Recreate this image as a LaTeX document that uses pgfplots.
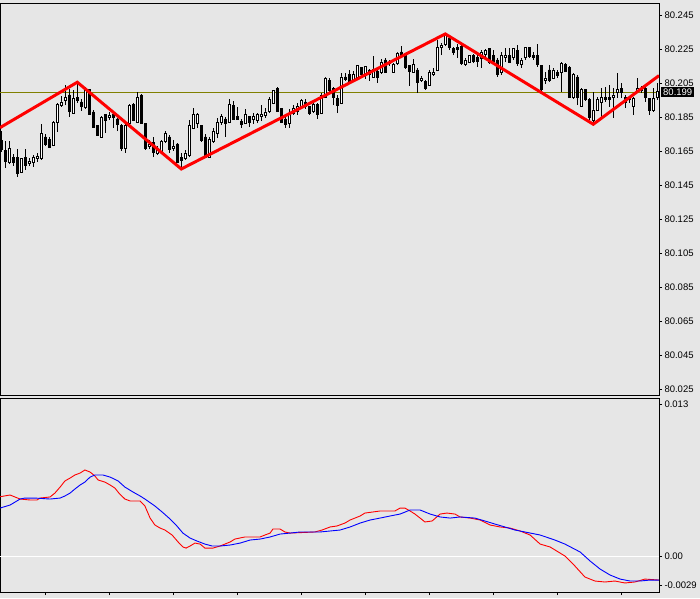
\documentclass[border=0pt]{standalone}
\usepackage{pgfplots}
\usepackage{pgfplotstable}
\pgfplotsset{compat=1.18}
\usepackage{fontspec}
\setmainfont{Liberation Sans}
\definecolor{bg}{RGB}{230,230,230}
\definecolor{bidline}{RGB}{128,128,0}
\pgfplotstableread{
i o h l c
0 80.1711 80.1769 80.1646 80.1658
1 80.1652 80.1711 80.1552 80.1593
2 80.1587 80.1711 80.1575 80.1669
3 80.1616 80.1634 80.1564 80.1587
4 80.1611 80.1664 80.1499 80.1522
5 80.1528 80.1611 80.1522 80.1605
6 80.1611 80.1664 80.1540 80.1569
7 80.1581 80.1611 80.1564 80.1593
8 80.1587 80.1628 80.1558 80.1611
9 80.1605 80.1640 80.1587 80.1622
10 80.1605 80.1811 80.1599 80.1752
11 80.1734 80.1752 80.1681 80.1693
12 80.1722 80.1734 80.1669 80.1675
13 80.1687 80.1828 80.1681 80.1822
14 80.1822 80.1934 80.1764 80.1928
15 80.1922 80.1975 80.1911 80.1940
16 80.1946 80.2040 80.1922 80.1969
17 80.1981 80.2016 80.1852 80.1887
18 80.1875 80.2011 80.1875 80.1958
19 80.1969 80.2052 80.1934 80.1946
20 80.1940 80.1958 80.1887 80.1916
21 80.1905 80.2028 80.1899 80.2016
22 80.2011 80.2016 80.1864 80.1869
23 80.1881 80.1893 80.1787 80.1793
24 80.1799 80.1805 80.1740 80.1746
25 80.1734 80.1858 80.1734 80.1846
26 80.1864 80.1869 80.1758 80.1834
27 80.1846 80.1881 80.1834 80.1858
28 80.1869 80.1881 80.1787 80.1846
29 80.1840 80.1846 80.1769 80.1805
30 80.1799 80.1811 80.1652 80.1669
31 80.1664 80.1816 80.1640 80.1799
32 80.1811 80.1928 80.1805 80.1922
33 80.1928 80.1934 80.1828 80.1834
34 80.1822 80.1999 80.1816 80.1964
35 80.1981 80.1987 80.1811 80.1816
36 80.1811 80.1816 80.1658 80.1664
37 80.1681 80.1716 80.1664 80.1693
38 80.1699 80.1734 80.1616 80.1646
39 80.1640 80.1681 80.1628 80.1669
40 80.1646 80.1716 80.1634 80.1705
41 80.1705 80.1769 80.1699 80.1752
42 80.1734 80.1746 80.1640 80.1658
43 80.1669 80.1716 80.1652 80.1681
44 80.1693 80.1699 80.1581 80.1587
45 80.1611 80.1640 80.1552 80.1599
46 80.1605 80.1658 80.1599 80.1640
47 80.1628 80.1834 80.1616 80.1799
48 80.1787 80.1905 80.1781 80.1864
49 80.1811 80.1875 80.1787 80.1864
50 80.1799 80.1805 80.1705 80.1716
51 80.1734 80.1752 80.1611 80.1616
52 80.1616 80.1734 80.1611 80.1722
53 80.1705 80.1787 80.1699 80.1764
54 80.1752 80.1846 80.1728 80.1822
55 80.1822 80.1869 80.1805 80.1852
56 80.1840 80.1852 80.1734 80.1816
57 80.1822 80.1958 80.1816 80.1928
58 80.1922 80.1946 80.1834 80.1840
59 80.1852 80.1911 80.1834 80.1840
60 80.1828 80.1840 80.1787 80.1805
61 80.1816 80.1899 80.1811 80.1864
62 80.1852 80.1858 80.1793 80.1822
63 80.1840 80.1875 80.1811 80.1852
64 80.1834 80.1875 80.1816 80.1864
65 80.1852 80.1922 80.1828 80.1869
66 80.1858 80.1905 80.1846 80.1881
67 80.1887 80.1969 80.1875 80.1952
68 80.1934 80.2011 80.1928 80.2005
69 80.2022 80.2028 80.1881 80.1887
70 80.1899 80.1905 80.1816 80.1822
71 80.1840 80.1852 80.1787 80.1805
72 80.1816 80.1899 80.1787 80.1875
73 80.1875 80.1922 80.1864 80.1899
74 80.1887 80.1934 80.1864 80.1911
75 80.1911 80.1958 80.1899 80.1946
76 80.1940 80.1958 80.1899 80.1911
77 80.1911 80.1916 80.1864 80.1875
78 80.1887 80.1934 80.1875 80.1928
79 80.1928 80.1934 80.1840 80.1864
80 80.1875 80.1993 80.1869 80.1981
81 80.1969 80.2087 80.1964 80.2081
82 80.2069 80.2081 80.1993 80.2005
83 80.2022 80.2028 80.1922 80.1969
84 80.1958 80.1981 80.1875 80.1922
85 80.1934 80.2111 80.1928 80.2087
86 80.2087 80.2111 80.2064 80.2075
87 80.2099 80.2128 80.2046 80.2052
88 80.2064 80.2122 80.2058 80.2099
89 80.2087 80.2158 80.2081 80.2152
90 80.2140 80.2146 80.2087 80.2099
91 80.2099 80.2152 80.2075 80.2146
92 80.2128 80.2134 80.2064 80.2099
93 80.2087 80.2211 80.2081 80.2134
94 80.2122 80.2140 80.2052 80.2087
95 80.2111 80.2193 80.2105 80.2175
96 80.2187 80.2199 80.2111 80.2116
97 80.2164 80.2187 80.2152 80.2175
98 80.2116 80.2169 80.2111 80.2158
99 80.2169 80.2234 80.2158 80.2228
100 80.2234 80.2269 80.2199 80.2211
101 80.2211 80.2216 80.2134 80.2140
102 80.2152 80.2158 80.2034 80.2122
103 80.2116 80.2193 80.2111 80.2158
104 80.2128 80.2140 80.1993 80.2052
105 80.2069 80.2093 80.2058 80.2081
106 80.2058 80.2069 80.2011 80.2022
107 80.2040 80.2128 80.2034 80.2116
108 80.2099 80.2140 80.2093 80.2116
109 80.2128 80.2305 80.2122 80.2258
110 80.2258 80.2287 80.2216 80.2275
111 80.2281 80.2346 80.2269 80.2334
112 80.2316 80.2328 80.2246 80.2258
113 80.2252 80.2264 80.2216 80.2234
114 80.2258 80.2281 80.2199 80.2246
115 80.2264 80.2275 80.2158 80.2164
116 80.2158 80.2199 80.2152 80.2187
117 80.2175 80.2216 80.2169 80.2211
118 80.2216 80.2222 80.2169 80.2181
119 80.2199 80.2228 80.2146 80.2181
120 80.2193 80.2246 80.2140 80.2234
121 80.2222 80.2252 80.2187 80.2240
122 80.2252 80.2258 80.2164 80.2175
123 80.2211 80.2246 80.2169 80.2181
124 80.2187 80.2199 80.2087 80.2099
125 80.2111 80.2234 80.2099 80.2216
126 80.2199 80.2258 80.2175 80.2211
127 80.2216 80.2258 80.2169 80.2175
128 80.2199 80.2258 80.2187 80.2252
129 80.2240 80.2275 80.2152 80.2169
130 80.2158 80.2199 80.2140 80.2187
131 80.2199 80.2264 80.2187 80.2258
132 80.2258 80.2264 80.2199 80.2205
133 80.2211 80.2234 80.2187 80.2199
134 80.2211 80.2281 80.2146 80.2158
135 80.2152 80.2158 80.1999 80.2011
136 80.2069 80.2116 80.2046 80.2081
137 80.2128 80.2158 80.2058 80.2064
138 80.2081 80.2140 80.2075 80.2128
139 80.2116 80.2128 80.2081 80.2093
140 80.2111 80.2175 80.1999 80.2169
141 80.2158 80.2169 80.2116 80.2122
142 80.2140 80.2152 80.1964 80.1969
143 80.1964 80.2111 80.1958 80.2099
144 80.2087 80.2099 80.1922 80.1964
145 80.1916 80.2022 80.1911 80.2011
146 80.2011 80.2016 80.1946 80.1952
147 80.1952 80.1964 80.1834 80.1846
148 80.1834 80.1999 80.1816 80.1893
149 80.1893 80.1969 80.1887 80.1952
150 80.1940 80.2022 80.1852 80.1964
151 80.1969 80.2028 80.1940 80.1952
152 80.1969 80.2040 80.1911 80.1952
153 80.1964 80.2022 80.1846 80.1981
154 80.1993 80.2111 80.1964 80.2011
155 80.2022 80.2052 80.1964 80.1993
156 80.1964 80.1981 80.1905 80.1940
157 80.1952 80.1975 80.1934 80.1958
158 80.1916 80.1969 80.1864 80.1958
159 80.1999 80.2081 80.1993 80.2022
160 80.2022 80.2034 80.1993 80.2005
161 80.2022 80.2028 80.1940 80.1964
162 80.1958 80.1964 80.1864 80.1893
163 80.1893 80.2022 80.1881 80.1958
164 80.1964 80.2052 80.1952 80.1999
}\candles
\pgfplotstableread{
x y
-0.3 0.00491
2.2 0.00505
3.4 0.00489
4.7 0.00472
7.2 0.00464
8.9 0.00464
9.7 0.00480
12.2 0.00489
13.4 0.00521
14.7 0.00570
15.9 0.00620
17.2 0.00644
18.4 0.00669
19.7 0.00685
20.9 0.00710
22.2 0.00693
23.4 0.00661
24.2 0.00628
25.9 0.00611
27.2 0.00587
28.4 0.00562
29.4 0.00521
30.9 0.00472
32.2 0.00456
34.7 0.00456
35.9 0.00415
37.2 0.00316
38.4 0.00259
39.7 0.00234
40.9 0.00218
42.7 0.00177
44.2 0.00120
45.4 0.00079
46.2 0.00070
47.2 0.00087
48.4 0.00111
49.7 0.00103
50.9 0.00070
52.9 0.00070
54.7 0.00087
57.2 0.00120
58.4 0.00144
60.9 0.00161
64.7 0.00161
65.9 0.00177
67.2 0.00193
67.9 0.00226
69.7 0.00226
70.9 0.00202
72.2 0.00193
78.4 0.00202
80.2 0.00218
82.2 0.00243
83.9 0.00251
85.9 0.00275
87.2 0.00300
89.7 0.00333
90.9 0.00357
94.7 0.00374
98.4 0.00374
99.7 0.00398
100.9 0.00398
102.2 0.00374
103.4 0.00349
104.7 0.00316
105.9 0.00284
107.7 0.00292
109.7 0.00349
111.4 0.00357
113.4 0.00349
114.7 0.00325
117.2 0.00316
119.7 0.00300
122.2 0.00259
124.7 0.00243
127.2 0.00234
129.7 0.00210
132.2 0.00177
134.7 0.00103
137.2 0.00079
140.9 0.00005
143.4 -0.00077
145.9 -0.00167
148.4 -0.00200
150.9 -0.00208
153.4 -0.00200
155.9 -0.00216
158.4 -0.00208
160.9 -0.00184
164.4 -0.00192
}\oscred
\pgfplotstableread{
x y
-0.3 0.00398
2.2 0.00423
4.7 0.00472
5.9 0.00480
8.4 0.00480
12.2 0.00472
14.7 0.00480
15.9 0.00497
17.2 0.00521
18.4 0.00554
19.7 0.00587
20.9 0.00611
22.2 0.00652
23.4 0.00669
25.4 0.00669
27.2 0.00652
29.2 0.00620
30.9 0.00570
32.9 0.00530
34.7 0.00497
35.9 0.00472
38.4 0.00415
40.2 0.00366
42.2 0.00308
43.9 0.00251
45.4 0.00193
47.2 0.00152
48.9 0.00128
50.9 0.00103
52.7 0.00087
54.7 0.00087
57.2 0.00095
59.7 0.00111
62.2 0.00136
64.7 0.00144
67.2 0.00161
69.7 0.00185
72.2 0.00193
74.7 0.00202
79.7 0.00202
82.2 0.00210
84.7 0.00218
87.2 0.00243
89.7 0.00275
92.2 0.00300
94.7 0.00316
97.2 0.00333
99.7 0.00349
102.2 0.00382
104.7 0.00382
107.2 0.00349
109.7 0.00325
112.2 0.00316
114.7 0.00325
118.4 0.00316
120.9 0.00292
123.4 0.00267
125.9 0.00243
128.4 0.00218
130.9 0.00202
134.7 0.00177
138.4 0.00136
140.9 0.00103
144.7 0.00038
147.2 -0.00036
149.7 -0.00102
152.2 -0.00151
154.7 -0.00184
157.2 -0.00200
159.7 -0.00200
162.2 -0.00192
164.4 -0.00192
}\oscblue
% build the candle plots from the table, outside the axis
\def\candleplots{}
\pgfplotsforeachungrouped \k in {0,...,164}{%
  \pgfplotstablegetelem{\k}{i}\of\candles \let\ci\pgfplotsretval
  \pgfplotstablegetelem{\k}{o}\of\candles \let\co\pgfplotsretval
  \pgfplotstablegetelem{\k}{h}\of\candles \let\ch\pgfplotsretval
  \pgfplotstablegetelem{\k}{l}\of\candles \let\cl\pgfplotsretval
  \pgfplotstablegetelem{\k}{c}\of\candles \let\cc\pgfplotsretval
  \pgfmathsetmacro\xa{\ci-0.26}%
  \pgfmathsetmacro\xb{\ci+0.26}%
  \ifdim\cc pt>\co pt \def\bodyfill{white}\else\def\bodyfill{black}\fi
  \xdef\candleplots{\unexpanded\expandafter{\candleplots}%
    \noexpand\addplot[black, line width=1pt, forget plot] coordinates {(\ci,\cl) (\ci,\ch)};%
    \noexpand\addplot[draw=black, fill=\bodyfill, line width=0.9pt, forget plot] coordinates {(\xa,\co) (\xb,\co) (\xb,\cc) (\xa,\cc) (\xa,\co)};}%
}
\begin{document}
\begin{tikzpicture}
\fill[bg] (0pt,0pt) rectangle (700pt,598pt);
\begin{axis}[
  at={(0pt,203pt)}, anchor=south west, scale only axis,
  width=659pt, height=391pt,
  xmin=-0.325, xmax=164.425, ymin=80.0217, ymax=80.2516,
  axis line style={black, line width=1pt},
  xtick=\empty, scaled y ticks=false,
  ytick={80.025,80.045,80.065,80.085,80.105,80.125,80.145,80.165,80.185,80.205,80.225,80.245},
  yticklabels={80.025,80.045,80.065,80.085,80.105,80.125,80.145,80.165,80.185,80.205,80.225,80.245},
  ytick pos=right, yticklabel pos=right, tick align=outside,
  major tick length=3pt, tick style={black, line width=0.8pt},
  yticklabel style={font=\fontsize{9.5}{11}\selectfont, xshift=-1pt},
]
\addplot[bidline, line width=1pt] coordinates {(-0.325,80.1997) (164.425,80.1997)};
\candleplots
\addplot[red, line width=3pt] coordinates {(-0.325,80.1789) (19,80.2056) (45,80.1546) (111,80.2340) (148,80.1809) (164.425,80.2095)};
\coordinate (bid) at (axis cs:164.425,80.1997);
\end{axis}
\node[fill=black, text=white, anchor=west, inner xsep=2pt, inner ysep=1.5pt, font=\fontsize{9.5}{11}\selectfont] at ([xshift=2pt]bid) {80.199};
\begin{axis}[
  at={(0pt,6pt)}, anchor=south west, scale only axis,
  width=659pt, height=194pt,
  xmin=-0.325, xmax=164.425, ymin=-0.0029, ymax=0.013,
  axis line style={black, line width=1pt},
  xtick={11,27,43,59,75,91,107,123,139,155}, xticklabels={},
  xtick pos=bottom, scaled y ticks=false,
  ytick={-0.00233,0,0.01245}, yticklabels={-0.0029,0.00,0.013},
  ytick pos=right, yticklabel pos=right, tick align=outside,
  major tick length=3pt, tick style={black, line width=0.8pt},
  yticklabel style={font=\fontsize{9.5}{11}\selectfont, xshift=-1pt},
]
\addplot[white, line width=1pt] coordinates {(-0.325,0) (164.425,0)};
\addplot[red, line width=0.9pt] table[x=x, y=y] {\oscred};
\addplot[blue, line width=0.9pt] table[x=x, y=y] {\oscblue};
\end{axis}
\pgfresetboundingbox
\useasboundingbox (0pt,0pt) rectangle (700pt,598pt);
\end{tikzpicture}
\end{document}
